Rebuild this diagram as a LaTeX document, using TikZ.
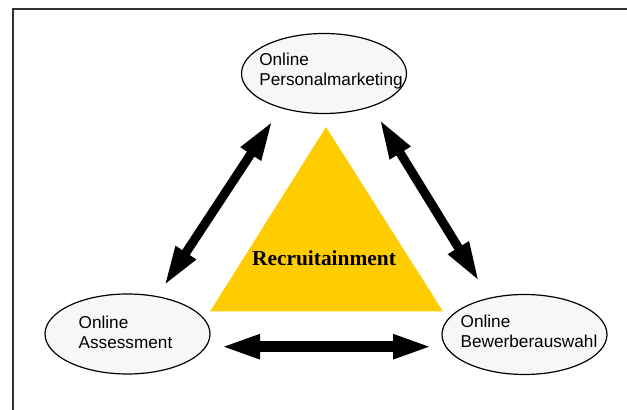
\documentclass[tikz,border=0pt]{standalone}
\usepackage{fontspec}
\setmainfont{Liberation Serif}
\setsansfont{Liberation Sans}
\usetikzlibrary{shapes.geometric,arrows.meta}

\definecolor{recyellow}{RGB}{255,204,0}

\begin{document}
\begin{tikzpicture}[x=0.5pt,y=-0.5pt,
  stage/.style={ellipse, draw, line width=0.6pt, fill=black!3,
                minimum width=82.5pt, minimum height=40pt, inner sep=0pt},
  stagetext/.style={align=left, inner sep=0pt,
                    font=\sffamily\fontsize{8.6}{10}\selectfont},
  link/.style={line width=4.5pt,
               {Triangle[length=20pt,width=11pt]}-{Triangle[length=20pt,width=11pt]}}]
  \useasboundingbox (0,0) rectangle (627,410);

  % frame, open at the right and at the bottom
  \draw[line width=0.8pt, black!80] (13,420) -- (13,9) -- (640,9);

  % the three stages
  \node[stage] (PM) at (324,73.5)  {};
  \node[stage] (AS) at (127.5,334) {};
  \node[stage] (BA) at (524.5,334.5) {};
  \node[stagetext] (PMtext) at (331,71)    {Online\\Personalmarketing};
  \node[stagetext] (AStext) at (125.5,332.5) {Online\\Assessment};
  \node[stagetext] (BAtext) at (529,331.5)   {Online\\Bewerberauswahl};

  % triangle in the middle
  \coordinate (TriTop)   at (326,127);
  \coordinate (TriLeft)  at (210,311.5);
  \coordinate (TriRight) at (443,311.5);
  \fill[recyellow] (TriTop) -- (TriRight) -- (TriLeft) -- cycle;
  \node (Recr) at (324,258) {\fontsize{10.7}{12}\selectfont\bfseries Recruitainment};

  % arrow ends
  \coordinate (PMsw) at (272.7,120.7);
  \coordinate (ASne) at (164,286);
  \coordinate (PMse) at (379.3,119);
  \coordinate (BAnw) at (479.3,281.7);
  \coordinate (ASe)  at (220,346.7);
  \coordinate (BAw)  at (433,346.7);

  \draw[link] (PMsw) -- (ASne);
  \draw[link] (PMse) -- (BAnw);
  \draw[link, line width=5.5pt] (ASe) -- (BAw);

\end{tikzpicture}
\end{document}
